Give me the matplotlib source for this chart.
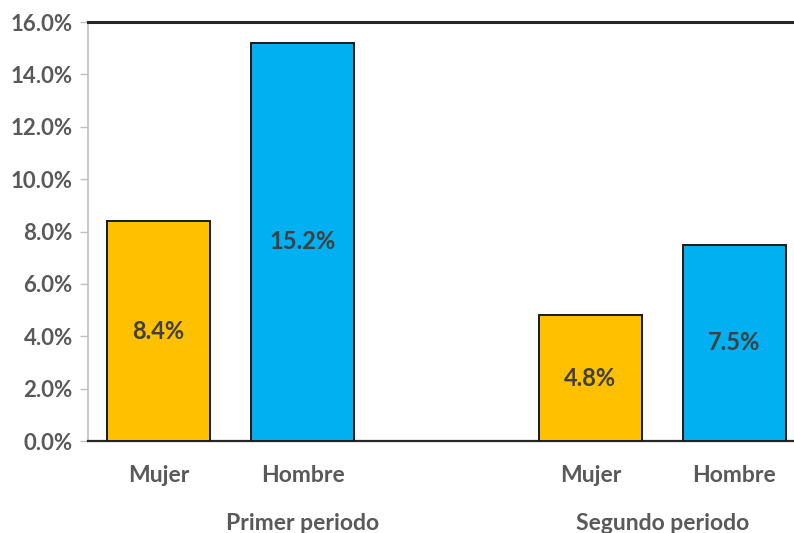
import matplotlib

matplotlib.use("Agg")
import matplotlib.pyplot as plt
import matplotlib.transforms as mtransforms
from matplotlib.ticker import FuncFormatter

# Data
categories = ["Mujer", "Hombre", "Mujer", "Hombre"]
periods = ["Primer periodo", "Segundo periodo"]
values = [8.4, 15.2, 4.8, 7.5]
bar_colors = ["#FFC000", "#00B0F0", "#FFC000", "#00B0F0"]
positions = [0, 1, 3, 4]          # slot 2 is the empty spacer between periods
period_centers = [1.0, 3.5]

TEXT = "#595959"
LABEL = "#404040"
plt.rcParams["font.family"] = ["Lato", "DejaVu Sans"]

fig = plt.figure(figsize=(7.94, 5.33), dpi=100)
ax = fig.add_axes([88 / 794, 92 / 533, 717 / 794, 419 / 533])

bars = ax.bar(positions, values, width=0.72, color=bar_colors,
              edgecolor="#1a1a1a", linewidth=1.4, zorder=3)
for rect, v in zip(bars, values):
    ax.text(rect.get_x() + rect.get_width() / 2, v / 2, f"{v:.1f}%",
            ha="center", va="center", fontsize=17, fontweight="bold",
            color=LABEL, zorder=4)

ax.set_xlim(-0.49, 4.49)
ax.set_ylim(0, 16)
ax.set_yticks(range(0, 17, 2))
ax.yaxis.set_major_formatter(FuncFormatter(lambda v, _: f"{v:.1f}%"))
ax.tick_params(axis="y", colors="#bfbfbf", length=6, width=1, labelcolor=TEXT,
               labelsize=16, pad=5)
for lab in ax.get_yticklabels():
    lab.set_fontweight("bold")

ax.set_xticks(positions)
ax.set_xticklabels(categories, fontsize=16.5, fontweight="bold", color=TEXT)
ax.tick_params(axis="x", length=0, pad=17)

trans = mtransforms.blended_transform_factory(ax.transData, ax.transAxes)
for name, cx in zip(periods, period_centers):
    ax.text(cx, -0.197, name, transform=trans, ha="center", va="center",
            fontsize=16.5, fontweight="bold", color=TEXT)

ax.spines["left"].set_color("#bfbfbf")
ax.spines["left"].set_linewidth(1.2)
ax.spines["bottom"].set_color("#262626")
ax.spines["bottom"].set_linewidth(1.6)
ax.spines["top"].set_color("#262626")
ax.spines["top"].set_linewidth(2.2)
ax.spines["right"].set_visible(False)

fig.savefig("out.png", dpi=100)
plt.close(fig)
